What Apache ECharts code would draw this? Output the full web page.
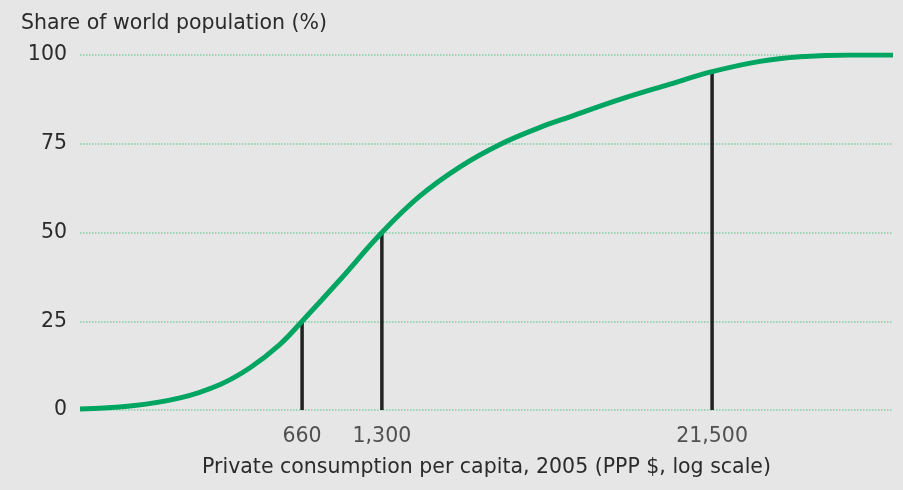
<!DOCTYPE html>
<html><head><meta charset="utf-8">
<script src="https://cdn.jsdelivr.net/npm/echarts@6/dist/echarts.min.js"></script>
<style>html,body{margin:0;padding:0;background:#e6e6e6;}#c{width:903px;height:490px;}</style>
</head><body><div id="c"></div>
<script>
const curveX = [100, 153, 234, 329, 424, 547, 660, 911, 1300, 1797, 2525, 3546, 4983, 6429, 9831, 15040, 21500, 32300, 45370, 69400, 100000];
const curveY = [0.3, 1.1, 3.4, 7.2, 11.9, 18.5, 25, 36.7, 50, 60.3, 68.5, 74.8, 79.6, 82.6, 87.5, 91.8, 95.3, 98.2, 99.5, 100, 100];
const markerX = [660, 1300, 21500];
const markerY = [25, 50, 95];
const markerLabels = ['660', '1,300', '21,500'];
const yTicks = [0, 25, 50, 75, 100];

const FONT = 'DejaVu Sans';
const TXT = '#2b2b2b';
const FS = 20.5;
const chart = echarts.init(document.getElementById('c'));
const segSeries = markerX.map((x, i) => ({
  type: 'line', data: [[x, 0], [x, markerY[i]]], symbol: 'none', z: 1,
  lineStyle: { color: '#222222', width: 3.5 }, silent: true, animation: false
}));
chart.setOption({
  backgroundColor: '#e6e6e6',
  animation: false,
  title: { text: 'Share of world population (%)', left: 16, top: 8,
    textStyle: { fontFamily: FONT, fontSize: FS, fontWeight: 'normal', color: TXT } },
  grid: { left: 80, right: 10, top: 55, bottom: 80 },
  xAxis: { type: 'log', logBase: 10, min: 100, max: 100000,
    axisLine: { show: false }, axisTick: { show: false }, axisLabel: { show: false }, splitLine: { show: false },
    name: 'Private consumption per capita, 2005 (PPP $, log scale)', nameLocation: 'middle', nameGap: 47,
    nameTextStyle: { fontFamily: FONT, fontSize: FS, color: TXT } },
  yAxis: { type: 'value', min: 0, max: 100, interval: 25,
    axisLine: { show: false }, axisTick: { show: false },
    axisLabel: { fontFamily: FONT, fontSize: FS, color: TXT, margin: 13,
      formatter: v => yTicks.includes(v) ? String(v) : '' },
    splitLine: { lineStyle: { color: '#7fcfa3', type: 'dotted', width: 1.5 } } },
  series: [
    ...segSeries,
    { type: 'line', data: curveX.map((x, i) => [x, curveY[i]]), smooth: 0.4, symbol: 'none', z: 3,
      lineStyle: { color: '#00a562', width: 5 } },
    { type: 'scatter', data: markerX.map(x => [x, 0]), symbolSize: 0, z: 2,
      label: { show: true, position: 'bottom', distance: 16, fontFamily: FONT, fontSize: FS, color: TXT,
        formatter: p => markerLabels[p.dataIndex] } }
  ]
});
</script></body></html>
